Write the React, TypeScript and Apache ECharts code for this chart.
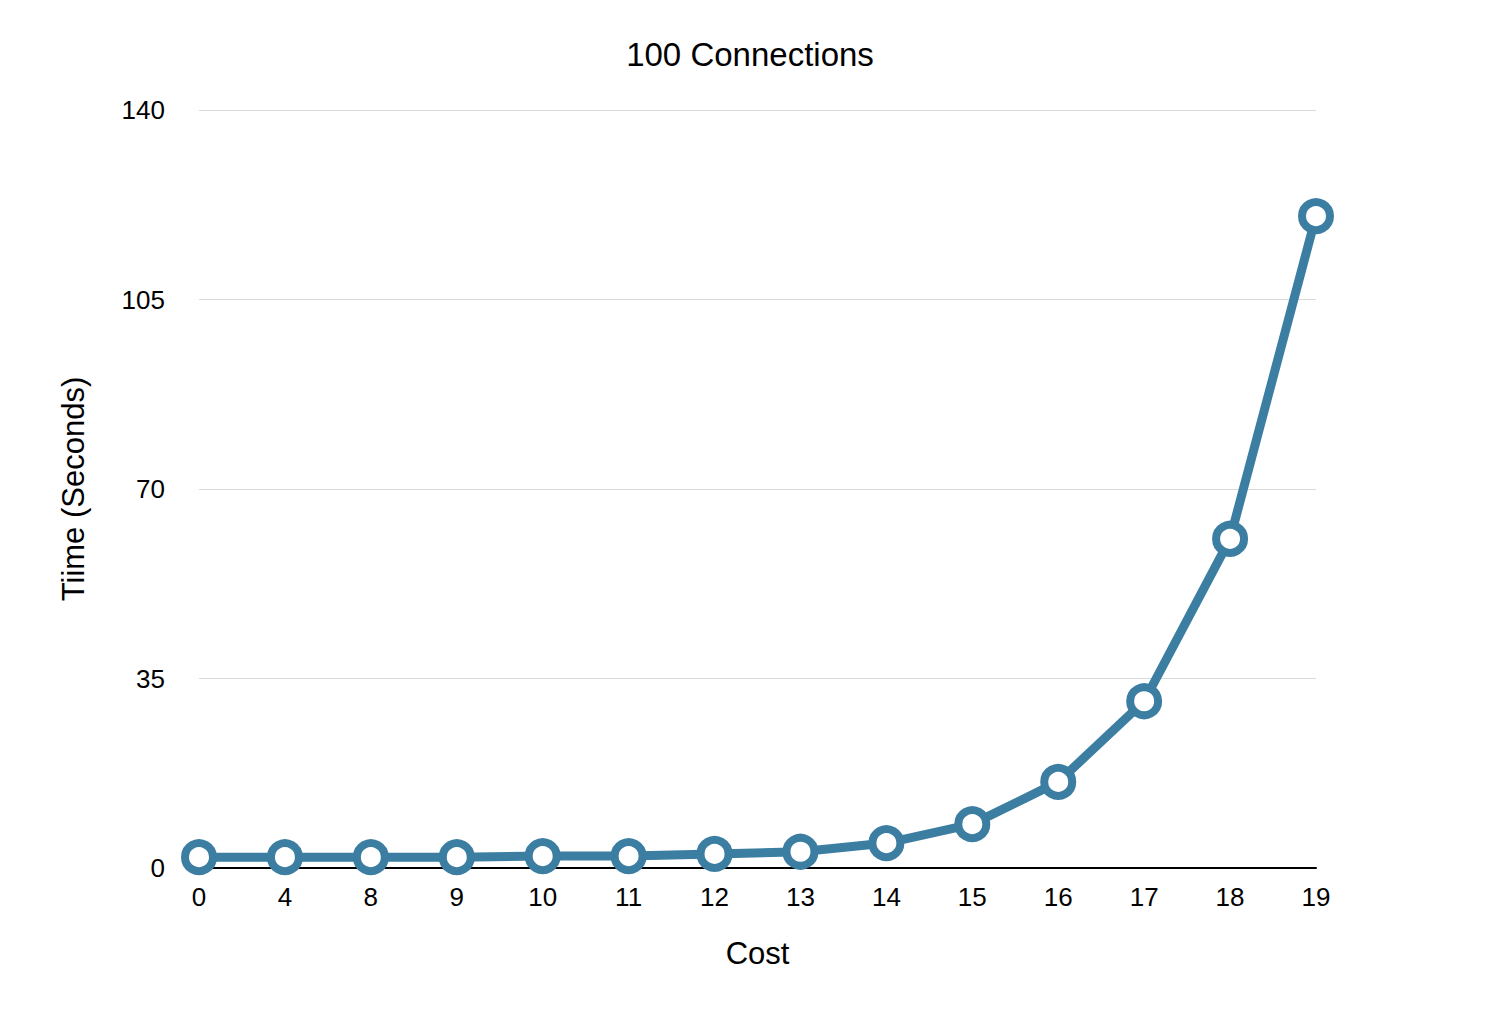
import React, { useEffect, useRef } from "react";
import * as echarts from "echarts";

const categories = ["0", "4", "8", "9", "10", "11", "12", "13", "14", "15", "16", "17", "18", "19"];
const times = [2.0, 2.0, 2.0, 2.0, 2.2, 2.2, 2.6, 3.0, 4.6, 8.1, 15.9, 30.8, 60.8, 120.4];
const yTicks = [0, 35, 70, 105, 140];

export default function App() {
  const ref = useRef<HTMLDivElement>(null);
  useEffect(() => {
    const chart = echarts.init(ref.current!, null, { renderer: "svg" });
    const font = "'Liberation Sans', Arial, sans-serif";
    chart.setOption({
      animation: false,
      backgroundColor: "#ffffff",
      title: {
        text: "100 Connections",
        left: "center",
        top: 33,
        textStyle: { fontFamily: font, fontSize: 33, fontWeight: "normal", color: "#000" },
      },
      grid: { left: 199, right: 184, top: 110, bottom: 164 },
      xAxis: {
        type: "category",
        data: categories,
        boundaryGap: false,
        name: "Cost",
        nameLocation: "middle",
        nameGap: 70,
        nameTextStyle: { fontFamily: font, fontSize: 31, color: "#000" },
        axisLine: { lineStyle: { color: "#000", width: 2 } },
        axisTick: { show: false },
        axisLabel: { fontFamily: font, fontSize: 26, color: "#000", margin: 16 },
      },
      yAxis: {
        type: "value",
        min: 0,
        max: 140,
        interval: 35,
        name: "Tiime (Seconds)",
        nameLocation: "middle",
        nameGap: 110,
        nameTextStyle: { fontFamily: font, fontSize: 31, color: "#000" },
        axisLine: { show: false },
        axisTick: { show: false },
        axisLabel: {
          fontFamily: font, fontSize: 26, color: "#000", margin: 34,
          formatter: (v: number) => (yTicks.includes(v) ? String(v) : ""),
        },
        splitLine: { lineStyle: { color: "#d9d9d9", width: 1 } },
      },
      series: [
        {
          type: "line",
          data: times,
          lineStyle: { color: "#3b7ea1", width: 9 },
          symbol: "circle",
          symbolSize: 28,
          itemStyle: { color: "#ffffff", borderColor: "#3b7ea1", borderWidth: 8 },
        },
      ],
    });
    return () => chart.dispose();
  }, []);
  return <div ref={ref} style={{ position: "absolute", left: 0, top: 0, width: 1500, height: 1032 }} />;
}
